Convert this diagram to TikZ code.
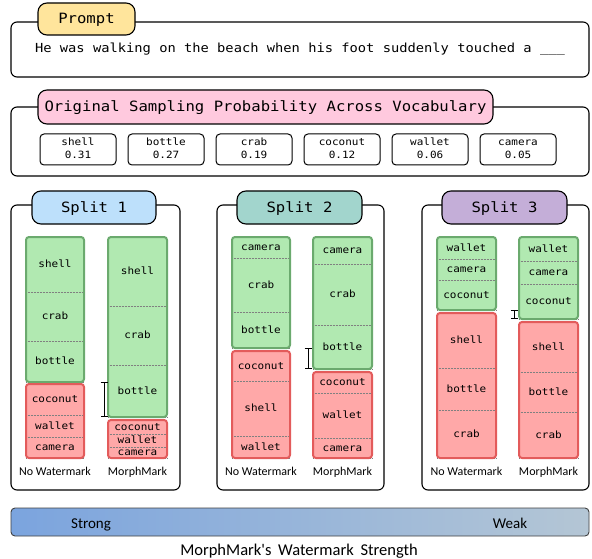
\documentclass[tikz,border=0pt]{standalone}
\usepackage{fontspec}
\setmainfont{Carlito}
\newfontfamily\codefont[FakeStretch=1.1]{DejaVu Sans Mono}
\usetikzlibrary{arrows.meta,positioning}

\definecolor{promptyellow}{HTML}{FFE59C}
\definecolor{vocabpink}{HTML}{FFC9DE}
\definecolor{splitblue}{HTML}{BDE0FB}
\definecolor{splitteal}{HTML}{A2D5CD}
\definecolor{splitpurple}{HTML}{C4AED8}
\definecolor{greenfill}{HTML}{B1E9B1}
\definecolor{greenedge}{HTML}{6BAA6E}
\definecolor{redfill}{HTML}{FFA8A8}
\definecolor{rededge}{HTML}{E35B5B}
\definecolor{strongblue}{HTML}{7BA4DE}
\definecolor{weakgray}{HTML}{B4C6D5}

\tikzset{
  panel/.style={draw=black, line width=1.1pt, rounded corners=6pt},
  tab/.style={draw=black, line width=1.1pt, rounded corners=9pt, inner sep=0pt,
    text height=10pt, text depth=0pt, font=\codefont\fontsize{14.2}{16}\selectfont},
  vocabbox/.style={draw=black, line width=1pt, rounded corners=4pt,
    minimum width=76pt, minimum height=31pt, inner sep=0pt},
  vocabtext/.style={anchor=base, inner sep=0pt, font=\codefont\fontsize{10}{12}\selectfont},
  greenbar/.style={fill=greenfill, draw=greenedge},
  redbar/.style={fill=redfill, draw=rededge},
  sepline/.style={gray, densely dotted, line width=0.5pt},
  barlabel/.style={anchor=base, inner sep=0pt, font=\codefont\fontsize{10}{12}\selectfont},
  method/.style={anchor=base, inner sep=0pt, font=\fontsize{12}{14}\selectfont},
  gapmark/.style={line width=0.8pt, {Bar[width=7pt]}-{Bar[width=7pt]}},
}

% #1 name, #2 style, #3 left, #4 right, #5 top, #6 bottom, #7 top/bottom/word
\newcommand{\tokbar}[7]{%
  \fill[#2, rounded corners=3pt] (#3,#5) rectangle (#4,#6);
  \foreach \ya/\yb/\w in {#7}{
    \draw[sepline] (#3,\yb) -- (#4,\yb);
    \node[barlabel] (#1-\w) at ({(#3+#4)/2},{(\ya+\yb)/2+3}) {\w};
  }
  \draw[#2, fill=none, line width=2pt, rounded corners=3pt] (#3,#5) rectangle (#4,#6);
}

\begin{document}
\begin{tikzpicture}[x=1pt, y=-1pt]
  \useasboundingbox (0,0) rectangle (592,559);

  % prompt
  \draw[panel] (11,22) rectangle (589,77);
  \node[tab, fill=promptyellow, minimum width=97pt, minimum height=32pt] (prompt) at (86.5,19) {Prompt};
  \node[anchor=base, inner sep=0pt, font=\codefont\fontsize{12.5}{14}\selectfont] (sentence) at (300,53)
    {He was walking on the beach when his foot suddenly touched a \textunderscore\textunderscore\textunderscore};

  % vocabulary
  \draw[panel] (11,107) rectangle (589,176);
  \node[tab, fill=vocabpink, minimum width=455pt, minimum height=34pt] (vocab) at (265.5,107)
    {Original Sampling Probability Across Vocabulary};
  \foreach \w/\p [count=\i from 0] in {shell/0.31, bottle/0.27, crab/0.19, coconut/0.12, wallet/0.06, camera/0.05}{
    \node[vocabbox] (voc-\w) at ({78+88*\i},149.5) {};
    \node[vocabtext] (voc-\w-word) at ([yshift=3.8pt]voc-\w.center) {\w};
    \node[vocabtext] (voc-\w-prob) at ([yshift=-9.5pt]voc-\w.center) {\p};
  }

  % splits
  \draw[panel] (11,205) rectangle (180,490);
  \draw[panel] (217,205) rectangle (384,490);
  \draw[panel] (422,205) rectangle (589,490);
  \node[tab, fill=splitblue, minimum width=124pt, minimum height=33pt] (split1) at (94,207.5) {Split 1};
  \node[tab, fill=splitteal, minimum width=125pt, minimum height=33pt] (split2) at (299.5,207.5) {Split 2};
  \node[tab, fill=splitpurple, minimum width=125pt, minimum height=33pt] (split3) at (504.5,207.5) {Split 3};

  % split 1
  \tokbar{s1n}{greenbar}{26}{84}{237}{382}{237/292/shell, 292/341/crab, 341/382/bottle}
  \tokbar{s1n}{redbar}{26}{84}{384}{458}{384/415/coconut, 415/437/wallet, 437/458/camera}
  \tokbar{s1m}{greenbar}{108}{167}{237}{417}{237/306/shell, 306/365/crab, 365/417/bottle}
  \tokbar{s1m}{redbar}{108}{167}{420}{458}{420/434/coconut, 434/447/wallet, 447/458/camera}
  \coordinate (gap1a) at (104,382);
  \coordinate (gap1b) at (104,417);
  \draw[gapmark] (gap1a) -- (gap1b);
  \node[method] (s1n-name) at (55,475) {No Watermark};
  \node[method] (s1m-name) at (137.5,475) {MorphMark};

  % split 2
  \tokbar{s2n}{greenbar}{232}{290}{237}{348}{237/258/camera, 258/312/crab, 312/348/bottle}
  \tokbar{s2n}{redbar}{232}{290}{351}{458}{351/381/coconut, 381/436/shell, 436/458/wallet}
  \tokbar{s2m}{greenbar}{313}{372}{237}{369}{237/264/camera, 264/325/crab, 325/369/bottle}
  \tokbar{s2m}{redbar}{313}{372}{372}{458}{372/393/coconut, 393/438/wallet, 438/458/camera}
  \coordinate (gap2a) at (308,348);
  \coordinate (gap2b) at (308,369);
  \draw[gapmark] (gap2a) -- (gap2b);
  \node[method] (s2n-name) at (261,475) {No Watermark};
  \node[method] (s2m-name) at (342.5,475) {MorphMark};

  % split 3
  \tokbar{s3n}{greenbar}{437}{496}{237}{310}{237/259/wallet, 259/280/camera, 280/310/coconut}
  \tokbar{s3n}{redbar}{437}{496}{313}{458}{313/368/shell, 368/410/bottle, 410/458/crab}
  \tokbar{s3m}{greenbar}{519}{578}{237}{319}{237/261/wallet, 261/284/camera, 284/319/coconut}
  \tokbar{s3m}{redbar}{519}{578}{322}{458}{322/372/shell, 372/412/bottle, 412/458/crab}
  \coordinate (gap3a) at (514,310);
  \coordinate (gap3b) at (514,319);
  \draw[gapmark] (gap3a) -- (gap3b);
  \node[method] (s3n-name) at (466.5,475) {No Watermark};
  \node[method] (s3m-name) at (548.5,475) {MorphMark};

  % strength
  \node[draw=black!75, line width=0.9pt, rounded corners=4pt, left color=strongblue, right color=weakgray,
    minimum width=578pt, minimum height=28pt, inner sep=0pt] (strength) at (300,522) {};
  \node[anchor=base, inner sep=0pt, font=\fontsize{15}{17}\selectfont] (strong) at (91,528) {Strong};
  \node[anchor=base, inner sep=0pt, font=\fontsize{15}{17}\selectfont] (weak) at (510,528) {Weak};
  \node[anchor=base, inner sep=0pt, font=\fontsize{16.5}{18}\selectfont] (scale) at (299,555)
    {MorphMark\textquotesingle s\hspace{3pt} Watermark\hspace{3pt} Strength};
\end{tikzpicture}
\end{document}
